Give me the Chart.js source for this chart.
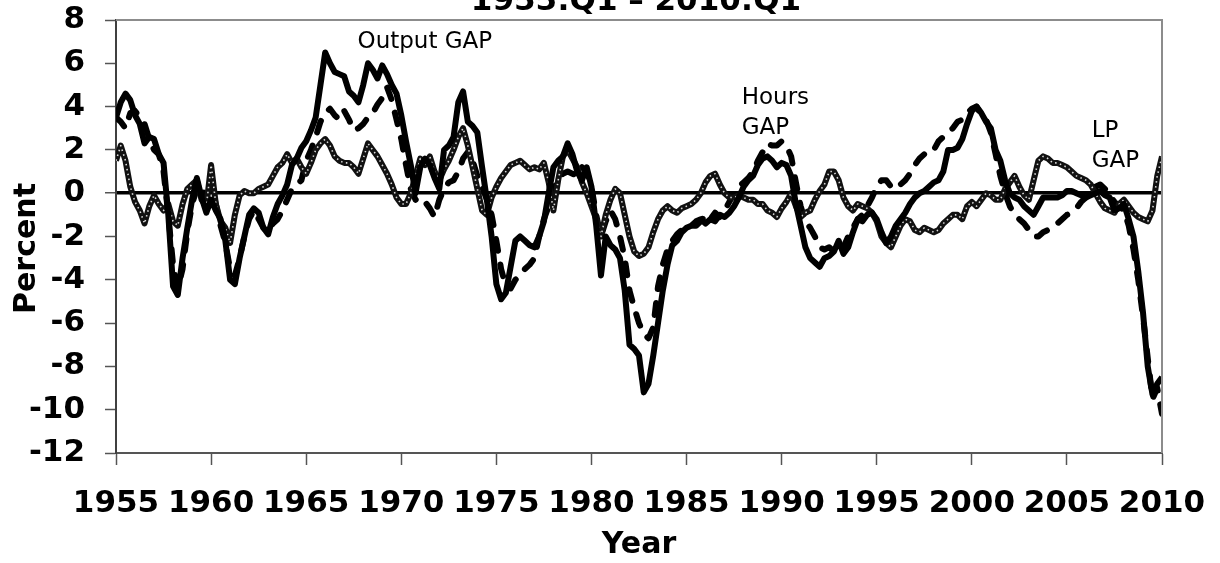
<!DOCTYPE html>
<html>
<head>
<meta charset="utf-8">
<title>Output, hours and LP gaps</title>
<script src="https://cdn.jsdelivr.net/npm/chart.js@4.4.1/dist/chart.umd.min.js"></script>
<style>
  html, body { margin: 0; padding: 0; background: #fff; }
</style>
</head>
<body>
<canvas id="gapChart" width="1220" height="563"></canvas>
<script>
// quarterly observations, 1955:Q1 .. 2010:Q1
var firstYear = 1955;
var quarterCount = 221;
var quarters = [];
for (var i = 0; i < quarterCount; i++) {
    quarters.push(firstYear + i / 4);
}

var chartTitle = "1955:Q1 \u2013 2010:Q1";

// output gap (solid line), percent
var outputGap = [
    3.5, 4.2, 4.6, 4.3, 3.6, 3.2, 2.3, 2.6, 2.5, 1.8, 1.4, -1.0, -4.3, -4.7, -3.0, -1.6, -0.3, 0.7, -0.2, -0.9,
    -0.3, -0.8, -1.2, -2.2, -4.0, -4.2, -3.0, -2.0, -1.0, -0.7, -0.9, -1.6, -1.9, -1.1, -0.5, -0.1, 0.4, 1.3, 1.6, 2.1,
    2.4, 2.9, 3.5, 5.0, 6.5, 6.0, 5.6, 5.5, 5.4, 4.7, 4.5, 4.2, 5.0, 6.0, 5.7, 5.3, 5.9, 5.5, 5.0, 4.6,
    3.6, 2.4, 1.3, 0.0, 1.2, 1.6, 1.3, 0.7, 0.2, 2.0, 2.2, 2.6, 4.2, 4.7, 3.3, 3.1, 2.8, 1.2, -0.3, -2.0,
    -4.2, -4.9, -4.6, -3.4, -2.2, -2.0, -2.2, -2.4, -2.5, -2.0, -1.3, 0.0, 1.2, 1.5, 1.7, 2.3, 1.8, 1.0, 0.6, 1.2,
    0.3, -1.5, -3.8, -2.0, -2.4, -2.6, -3.0, -4.5, -7.0, -7.2, -7.5, -9.2, -8.8, -7.5, -6.0, -4.5, -3.3, -2.4, -2.2, -1.8,
    -1.6, -1.5, -1.3, -1.2, -1.4, -1.2, -1.3, -1.0, -1.1, -0.9, -0.6, -0.2, 0.3, 0.6, 0.8, 1.3, 1.6, 1.7, 1.5, 1.2,
    1.4, 1.3, 0.8, -0.5, -1.5, -2.5, -3.0, -3.2, -3.4, -3.0, -2.9, -2.7, -2.2, -2.8, -2.5, -1.8, -1.2, -1.3, -1.0, -0.9,
    -1.2, -1.8, -2.3, -2.0, -1.5, -1.2, -0.9, -0.5, -0.2, 0.0, 0.1, 0.3, 0.5, 0.6, 1.0, 2.0, 2.0, 2.1, 2.5, 3.2,
    3.8, 4.0, 3.7, 3.3, 3.0, 2.0, 1.5, 0.6, 0.0, -0.2, -0.3, -0.6, -0.8, -1.0, -0.6, -0.2, -0.2, -0.2, -0.2, -0.1,
    0.1, 0.1, 0.0, -0.1, -0.2, -0.1, 0.0, 0.1, -0.1, -0.2, -0.8, -0.7, -0.5, -1.2, -2.0, -3.6, -5.5, -8.0, -9.3, -8.8,
    -8.5
];

// hours gap (dashed line), percent
var hoursGap = [
    3.5, 3.3, 3.0, 3.7, 3.8, 3.5, 3.2, 2.5, 2.0, 1.8, 1.0, -1.0, -3.3, -4.4, -3.5, -1.8, -0.5, 0.2, 0.4, -0.5,
    0.5, -0.5, -1.5, -2.3, -3.5, -3.8, -3.0, -2.0, -1.2, -0.8, -1.2, -1.6, -1.8, -1.4, -1.2, -0.8, -0.3, 0.2, 0.4, 0.6,
    1.5, 2.0, 2.6, 3.3, 3.7, 3.9, 3.6, 3.4, 3.8, 3.4, 2.9, 3.0, 3.2, 3.5, 3.7, 4.1, 4.4, 4.9, 4.3, 3.4,
    2.5, 1.3, 0.2, -0.3, -0.5, -0.4, -0.7, -1.1, -0.3, 0.2, 0.5, 0.6, 1.0, 1.6, 1.9, 1.5, 0.8, 0.3, -0.3, -1.0,
    -2.2, -3.5, -4.3, -4.4, -4.0, -3.8, -3.5, -3.3, -3.0, -2.0, -1.2, -0.6, 0.2, 0.6, 0.9, 1.0, 0.9, 0.8, 1.2, 1.0,
    0.3, -1.0, -2.0, -1.3, -0.8, -1.2, -2.0, -3.0, -4.5, -5.3, -6.0, -6.5, -6.7, -6.2, -4.3, -3.3, -2.6, -2.2, -1.9, -1.7,
    -1.6, -1.5, -1.5, -1.3, -1.0, -1.2, -0.9, -1.1, -0.8, -0.4, 0.0, 0.3, 0.5, 0.7, 1.0, 1.5, 1.9, 2.3, 2.2, 2.2,
    2.4, 2.2, 1.7, 0.5, -0.6, -1.3, -1.6, -2.0, -2.5, -2.6, -2.5, -2.7, -2.8, -2.5, -2.0, -1.6, -1.2, -1.0, -0.6, -0.2,
    0.3, 0.6, 0.6, 0.3, 0.2, 0.4, 0.6, 0.9, 1.3, 1.6, 1.8, 1.8, 2.0, 2.4, 2.6, 2.8, 3.0, 3.3, 3.4, 3.7,
    3.9, 4.0, 3.6, 3.4, 2.8, 1.8, 0.8, 0.0, -0.6, -1.0, -1.2, -1.4, -1.7, -2.0, -2.0, -1.8, -1.7, -1.6, -1.4, -1.2,
    -1.0, -0.9, -0.7, -0.4, -0.2, 0.1, 0.3, 0.4, 0.2, -0.1, -0.4, -0.6, -0.8, -1.5, -2.6, -4.0, -5.7, -7.6, -9.5, -9.0,
    -10.2
];

// labour productivity gap (dotted line), percent
var lpGap = [
    1.5, 2.2, 1.5, 0.3, -0.4, -0.8, -1.4, -0.6, -0.1, -0.5, -0.8, -0.5, -1.3, -1.5, -0.5, 0.2, 0.4, 0.6, -0.3, -0.6,
    1.3, -0.5, -1.3, -1.6, -2.3, -1.0, -0.1, 0.1, 0.0, 0.0, 0.2, 0.3, 0.4, 0.8, 1.2, 1.4, 1.8, 1.4, 1.6, 1.2,
    0.9, 1.4, 2.0, 2.3, 2.5, 2.2, 1.7, 1.5, 1.4, 1.4, 1.2, 0.9, 1.6, 2.3, 2.0, 1.7, 1.3, 0.9, 0.4, -0.2,
    -0.5, -0.5, 0.0, 0.8, 1.6, 1.3, 1.7, 1.0, 0.6, 1.1, 1.5, 2.0, 2.6, 3.0, 2.2, 1.2, 0.2, -0.8, -1.0, -0.2,
    0.3, 0.7, 1.0, 1.3, 1.4, 1.5, 1.3, 1.1, 1.2, 1.1, 1.4, 0.5, -0.8, 0.6, 1.7, 2.0, 1.6, 1.2, 0.5, 0.0,
    -0.6, -1.2, -2.0, -1.0, -0.3, 0.2, 0.0, -1.0, -2.0, -2.7, -2.9, -2.8, -2.5, -1.8, -1.2, -0.8, -0.6, -0.8, -0.9, -0.7,
    -0.6, -0.5, -0.3, 0.0, 0.5, 0.8, 0.9, 0.4, 0.0, -0.2, -0.2, -0.1, -0.2, -0.3, -0.3, -0.5, -0.5, -0.8, -0.9, -1.1,
    -0.7, -0.4, 0.0, -0.6, -1.1, -0.9, -0.8, -0.3, 0.1, 0.4, 1.0, 1.0, 0.6, -0.2, -0.6, -0.8, -0.5, -0.6, -0.7, -0.9,
    -1.3, -2.0, -2.3, -2.5, -2.0, -1.5, -1.2, -1.3, -1.7, -1.8, -1.6, -1.7, -1.8, -1.7, -1.4, -1.2, -1.0, -1.0, -1.2, -0.6,
    -0.4, -0.6, -0.3, 0.0, -0.1, -0.3, -0.3, 0.2, 0.5, 0.8, 0.3, -0.1, -0.3, 0.6, 1.5, 1.7, 1.6, 1.4, 1.4, 1.3,
    1.2, 1.0, 0.8, 0.7, 0.6, 0.4, 0.0, -0.4, -0.7, -0.8, -0.9, -0.5, -0.3, -0.6, -0.9, -1.1, -1.2, -1.3, -0.8, 0.8,
    1.7
];

var fontFamily = '"DejaVu Sans", Verdana, sans-serif';

// text labels inside the plot, anchored to (year, percent)
var seriesNotes = [
    { lines: ["Output GAP"], year: 1967.7, value: 6.7 },
    { lines: ["Hours", "GAP"], year: 1987.9, value: 4.1 },
    { lines: ["LP", "GAP"], year: 2006.3, value: 2.6 }
];

// title (cut by the top edge), y-axis title, grey frame on top/right, in-plot labels
var framePlugin = {
    id: "frameAndNotes",
    afterDatasetsDraw: function(chart) {
        var ctx = chart.ctx;
        var a = chart.chartArea;
        ctx.save();
        ctx.strokeStyle = "#8c8c8c";
        ctx.lineWidth = 2;
        ctx.beginPath();
        ctx.moveTo(a.left, a.top);
        ctx.lineTo(a.right, a.top);
        ctx.lineTo(a.right, a.bottom);
        ctx.stroke();

        ctx.fillStyle = "#000";
        ctx.font = "23px " + fontFamily;
        ctx.textAlign = "left";
        ctx.textBaseline = "alphabetic";
        var xs = chart.scales.x, ys = chart.scales.y;
        seriesNotes.forEach(function(n) {
            var px = xs.getPixelForValue(n.year);
            var py = ys.getPixelForValue(n.value);
            n.lines.forEach(function(line, k) {
                ctx.fillText(line, px, py + k * 30);
            });
        });
        ctx.restore();
    },
    afterDraw: function(chart) {
        var ctx = chart.ctx;
        var a = chart.chartArea;
        ctx.save();
        ctx.fillStyle = "#000";
        ctx.font = "bold 31px " + fontFamily;
        ctx.textAlign = "center";
        ctx.textBaseline = "alphabetic";
        ctx.fillText(chartTitle, (a.left + a.right) / 2 - 3, 10);

        ctx.font = "bold 30px " + fontFamily;
        ctx.translate(35, (a.top + a.bottom) / 2 + 12);
        ctx.rotate(-Math.PI / 2);
        ctx.textBaseline = "alphabetic";
        ctx.fillText("Percent", 0, 0);
        ctx.restore();
    }
};

var ctx = document.getElementById("gapChart").getContext("2d");
var gapChart = new Chart(ctx, {
    type: "line",
    data: {
        labels: quarters,
        datasets: [
            {
                label: "Output GAP",
                data: outputGap,
                borderColor: "#000",
                borderWidth: 6,
                order: 0
            },
            {
                label: "LP GAP dots",
                data: lpGap,
                borderColor: "#d9d9d9",
                borderWidth: 1.6,
                borderDash: [1.5, 3.5],
                order: 1
            },
            {
                label: "LP GAP",
                data: lpGap,
                borderColor: "#111",
                borderWidth: 6,
                order: 2
            },
            {
                label: "Hours GAP",
                data: hoursGap,
                borderColor: "#000",
                borderWidth: 6,
                borderDash: [12, 14],
                borderCapStyle: "round",
                order: 3
            }
        ]
    },
    options: {
        responsive: false,
        devicePixelRatio: 1,
        animation: false,
        elements: {
            point: { radius: 0 },
            line: { tension: 0, borderJoinStyle: "round" }
        },
        layout: { padding: { top: 20, right: 58, left: 0, bottom: 0 } },
        plugins: {
            legend: { display: false },
            tooltip: { enabled: false },
            title: { display: false }
        },
        scales: {
            x: {
                type: "linear",
                min: 1955,
                max: 2010,
                afterFit: function(s) {
                    s.height = 110;
                    s.paddingLeft = 0;
                    s.paddingRight = 0;
                },
                border: { display: true, color: "#555", width: 2 },
                grid: { drawOnChartArea: false, tickLength: 12, tickColor: "#555", tickWidth: 1.5 },
                ticks: {
                    stepSize: 5,
                    autoSkip: false,
                    maxRotation: 0,
                    padding: 20,
                    color: "#000",
                    font: { family: fontFamily, size: 31, weight: "bold" },
                    callback: function(v) { return String(v); }
                },
                title: {
                    display: true,
                    text: "Year",
                    color: "#000",
                    font: { family: fontFamily, size: 30, weight: "bold" },
                    padding: { top: 0, bottom: 0 }
                }
            },
            y: {
                min: -12,
                max: 8,
                afterFit: function(s) {
                    s.width = 116;
                    s.paddingTop = 0;
                    s.paddingBottom = 0;
                },
                border: { display: true, color: "#404040", width: 2 },
                grid: {
                    drawOnChartArea: true,
                    color: function(c) { return c.tick && c.tick.value === 0 ? "#000" : "rgba(0,0,0,0)"; },
                    lineWidth: function(c) { return c.tick && c.tick.value === 0 ? 3.5 : 1; },
                    tickLength: 11,
                    tickColor: "#555",
                    tickWidth: 1.5
                },
                ticks: {
                    stepSize: 2,
                    padding: 20,
                    color: "#000",
                    font: { family: fontFamily, size: 31, weight: "bold" }
                }
            }
        }
    },
    plugins: [framePlugin]
});
</script>
</body>
</html>
